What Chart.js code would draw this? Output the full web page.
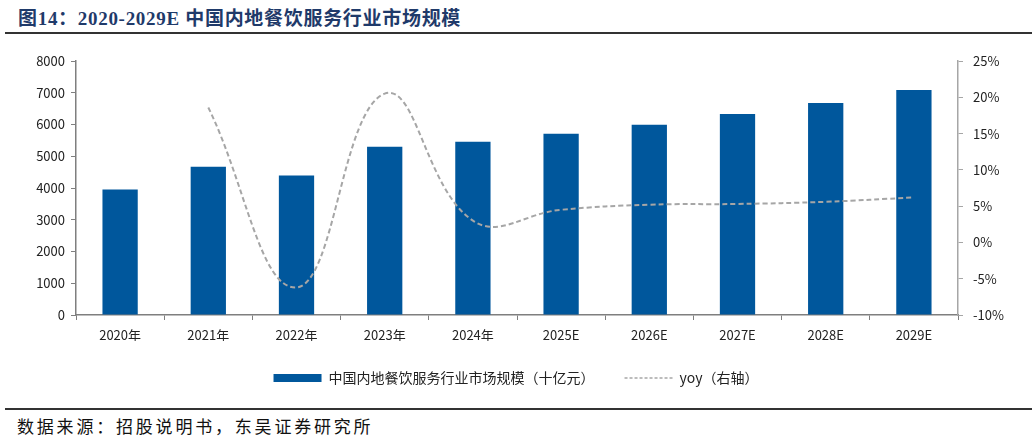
<!DOCTYPE html>
<html>
<head>
<meta charset="utf-8">
<script src="https://cdn.jsdelivr.net/npm/chart.js@4"></script>
<style>
  body { margin: 0; width: 1032px; height: 442px; background: #fff; position: relative; overflow: hidden; }
  .title { position: absolute; left: 18px; top: 3px; font: bold 19px "Liberation Serif", "Noto Sans CJK SC", serif; letter-spacing: 0.7px; color: #1f3a6a; white-space: nowrap; }
  .rule { position: absolute; left: 5px; right: 0; height: 2px; background: #333; }
  .source { position: absolute; left: 17px; top: 413px; font: 17px "Noto Sans CJK SC", sans-serif; letter-spacing: 2.8px; color: #111; white-space: nowrap; }
  .wrap { position: absolute; left: 0; top: 40px; width: 1032px; height: 355px; }
</style>
</head>
<body>
<div class="title">图14：2020-2029E 中国内地餐饮服务行业市场规模</div>
<div class="rule" style="top:32px"></div>
<div class="wrap"><canvas id="marketChart"></canvas></div>
<div class="rule" style="top:408px"></div>
<div class="source">数据来源：招股说明书，东吴证券研究所</div>
<script>
const years = ['2020年', '2021年', '2022年', '2023年', '2024年', '2025E', '2026E', '2027E', '2028E', '2029E'];
const marketSize = [3950, 4670, 4390, 5300, 5460, 5705, 5990, 6330, 6680, 7085];
const yoy = [null, 18.6, -6.2, 20.5, 3.0, 4.5, 5.2, 5.3, 5.6, 6.2];

const tickFont = { family: '"Noto Sans CJK SC", sans-serif', size: 13 };
const legendFont = { family: '"Noto Sans CJK SC", sans-serif', size: 14 };
const ctx = document.getElementById('marketChart').getContext('2d');

const chart = new Chart(ctx, {
  data: {
    labels: years,
    datasets: [{
      type: 'bar',
      label: '中国内地餐饮服务行业市场规模（十亿元）',
      data: marketSize,
      backgroundColor: '#00579c',
      borderWidth: 0,
      categoryPercentage: 1,
      barPercentage: 0.4,
      pointStyle: 'rect',
      yAxisID: 'y',
      order: 2
    }, {
      type: 'line',
      label: 'yoy（右轴）',
      data: yoy,
      borderColor: '#a6a6a6',
      backgroundColor: 'transparent',
      borderWidth: 2,
      borderDash: [5, 3],
      pointRadius: 0,
      tension: 0.42,
      pointStyle: 'line',
      yAxisID: 'y1',
      order: 1
    }]
  },
  options: {
    responsive: true,
    maintainAspectRatio: false,
    animation: false,
    layout: { padding: { top: 21, bottom: 0, left: 0, right: 0 } },
    plugins: {
      tooltip: { enabled: false },
      legend: {
        position: 'bottom',
        labels: {
          usePointStyle: true,
          pointStyleWidth: 48,
          boxHeight: 8,
          padding: 30,
          color: '#222',
          font: legendFont,
          sort: (a, b) => a.datasetIndex - b.datasetIndex,
          generateLabels: function(c) {
            const items = Chart.defaults.plugins.legend.labels.generateLabels(c);
            items.forEach(it => {
              const ds = c.data.datasets[it.datasetIndex];
              if (ds.type === 'line') {
                it.lineDash = [3, 2];
                it.lineWidth = 1.5;
                it.strokeStyle = ds.borderColor;
              }
            });
            return items;
          }
        }
      }
    },
    scales: {
      x: {
        grid: { drawOnChartArea: false, color: '#7f7f7f', tickLength: 5, offset: true },
        border: { color: '#7f7f7f', width: 1.5 },
        ticks: { color: '#222', font: tickFont, padding: 7, maxRotation: 0 },
        afterFit: s => { s.height = 26; }
      },
      y: {
        position: 'left',
        min: 0, max: 8000,
        grid: { drawOnChartArea: false, color: '#7f7f7f', tickLength: 5 },
        border: { color: '#7f7f7f', width: 1.5 },
        ticks: { stepSize: 1000, color: '#222', font: tickFont, padding: 6, callback: v => String(v) },
        afterFit: s => { s.width = 76; }
      },
      y1: {
        position: 'right',
        min: -10, max: 25,
        grid: { drawOnChartArea: false, color: '#a6a6a6', tickLength: 5 },
        border: { color: '#a6a6a6', width: 1.5 },
        ticks: { stepSize: 5, color: '#222', font: tickFont, padding: 10, callback: v => v + '%' },
        afterFit: s => { s.width = 74; }
      }
    }
  }
});
</script>
</body>
</html>
